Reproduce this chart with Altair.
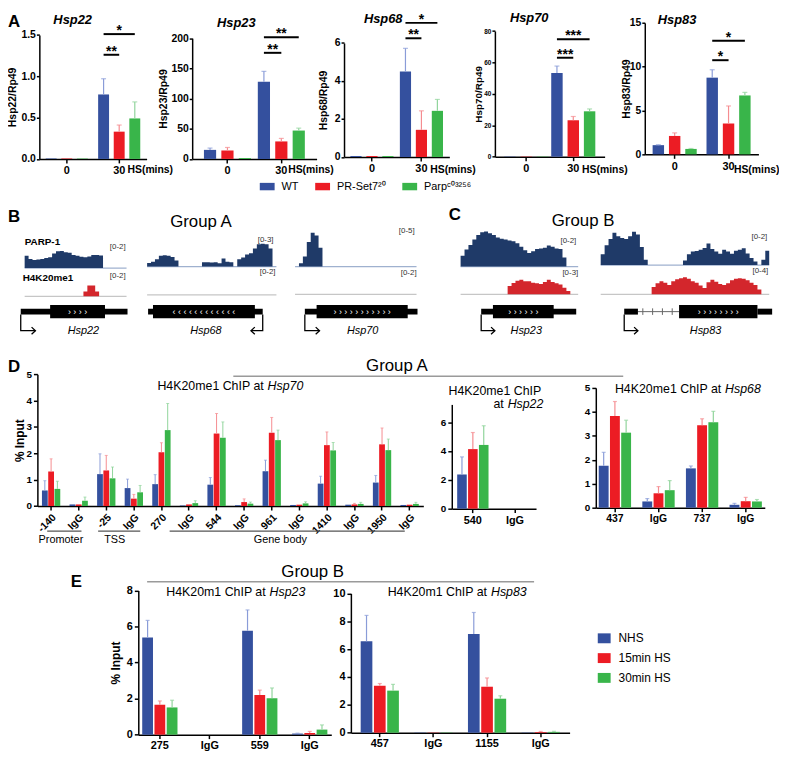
import altair as alt
import pandas as pd

W, H = 779, 749            # drawing area (page has an 8 px margin)


def Px(v):                 # reference-image x pixel -> chart pixel
    return v * W / 787.0


def Py(v):                 # reference-image y pixel -> chart pixel
    return (v - 2.0) * H / 761.0


FONT = "Liberation Sans"
BAR_COLORS = ["#34509e", "#ec1c24", "#39b54a"]
ERR_COLORS = ["#8a9cd8", "#f58c90", "#90d49b"]
NAVY = "#1f3a68"
TRACK_RED = "#d3262c"
PARP_BASE = "#9fb1cf"
K20_BASE = "#c6c6c6"

# ---------------- Panel A : qRT-PCR (rows = genotype, cols = 0 / 30 min) ----------------
A_genotypes = ["WT", "PR-Set7²⁰", "Parpᶜ⁰³²⁵⁶"]
A_times = ["0", "30"]
hsp22_mean = [[0.006, 0.78], [0.006, 0.33], [0.005, 0.49]]
hsp22_sem = [[0.0, 0.19], [0.0, 0.08], [0.0, 0.20]]
hsp23_mean = [[15.0, 128.0], [14.0, 29.0], [1.5, 47.0]]
hsp23_sem = [[3.0, 17.0], [5.0, 5.0], [0.0, 4.0]]
hsp68_mean = [[0.05, 4.5], [0.05, 1.43], [0.05, 2.43]]
hsp68_sem = [[0.0, 1.22], [0.0, 1.0], [0.0, 0.6]]
hsp70_mean = [[0.2, 53.3], [0.2, 23.2], [0.2, 28.9]]
hsp70_sem = [[0.0, 4.4], [0.0, 2.4], [0.0, 1.5]]
hsp83_mean = [[1.05, 8.75], [2.1, 3.52], [0.62, 6.72]]
hsp83_sem = [[0.05, 0.9], [0.35, 2.0], [0.05, 0.35]]
# significance brackets at 30 min: (genotype a, genotype b, height, stars)
hsp22_sig = [(0, 1, 1.26, "**"), (0, 2, 1.51, "*")]
hsp23_sig = [(0, 1, 175.7, "**"), (0, 2, 201.6, "**")]
hsp68_sig = [(0, 1, 6.25, "**"), (0, 2, 7.06, "*")]
hsp70_sig = [(0, 1, 63.0, "***"), (0, 2, 74.8, "***")]
hsp83_sig = [(0, 1, 10.74, "*"), (0, 2, 12.96, "*")]

# ---------------- Panels D / E : ChIP (rows = NHS, 15 min HS, 30 min HS) ----------------
DE_series = ["NHS", "15min HS", "30min HS"]
d70_sites = ["-140", "IgG", "-25", "IgG", "270", "IgG", "544", "IgG", "961", "IgG", "1410", "IgG", "1950", "IgG"]
d70_mean = [
    [0.59, 0.06, 1.21, 0.68, 0.83, 0.02, 0.81, 0.03, 1.32, 0.04, 0.85, 0.05, 0.89, 0.04],
    [1.31, 0.06, 1.35, 0.28, 2.04, 0.06, 2.75, 0.15, 2.78, 0.05, 2.31, 0.06, 2.34, 0.05],
    [0.65, 0.20, 1.05, 0.52, 2.88, 0.11, 2.59, 0.09, 2.50, 0.10, 2.11, 0.08, 2.12, 0.08],
]
d70_sem = [
    [0.37, 0.0, 0.77, 0.34, 0.36, 0.0, 0.27, 0.0, 0.42, 0.0, 0.28, 0.0, 0.27, 0.0],
    [0.48, 0.0, 0.57, 0.16, 0.36, 0.0, 0.76, 0.12, 0.58, 0.0, 0.50, 0.04, 0.62, 0.0],
    [0.29, 0.14, 0.43, 0.26, 1.01, 0.09, 0.60, 0.06, 0.38, 0.06, 0.30, 0.06, 0.42, 0.06],
]
d22_sites = ["540", "IgG"]
d22_mean = [[2.37, 0.0], [4.13, 0.0], [4.42, 0.0]]
d22_sem = [[1.22, 0.0], [1.15, 0.0], [1.33, 0.0]]
d68_sites = ["437", "IgG", "737", "IgG"]
d68_mean = [[1.75, 0.26, 1.64, 0.12], [3.83, 0.60, 3.44, 0.27], [3.13, 0.73, 3.56, 0.26]]
d68_sem = [[0.56, 0.12, 0.10, 0.06], [0.60, 0.28, 0.27, 0.16], [0.52, 0.40, 0.46, 0.08]]
e23_sites = ["275", "IgG", "559", "IgG"]
e23_mean = [[5.39, 0.0, 5.77, 0.06], [1.66, 0.0, 2.20, 0.09], [1.51, 0.0, 2.02, 0.28]]
e23_sem = [[0.95, 0.0, 1.15, 0.02], [0.21, 0.0, 0.27, 0.09], [0.40, 0.0, 0.57, 0.26]]
e83_sites = ["457", "IgG", "1155", "IgG"]
e83_mean = [[6.56, 0.02, 7.09, 0.02], [3.37, 0.02, 3.30, 0.05], [3.02, 0.02, 2.44, 0.06]]
e83_sem = [[1.86, 0.0, 1.54, 0.0], [0.16, 0.0, 0.63, 0.04], [0.45, 0.0, 0.21, 0.04]]

# ---------------- Panels B / C : genome-browser tracks (4 px bins) ----------------
parp_hsp22 = [0.68, 0.5, 0.45, 0.47, 0.5, 0.56, 0.6, 0.8, 0.93, 0.95, 0.88, 0.85, 0.72, 0.68, 0.62, 0.6,
              0.64, 0.72, 0.72, 0.7, 0, 0, 0, 0, 0, 0]
k20_hsp22 = [0, 0, 0, 0, 0, 0, 0, 0, 0, 0, 0, 0, 0, 0, 0, 0.5, 1.1, 1.1, 0.5, 0, 0, 0, 0, 0, 0, 0]
parp_hsp68 = [0.3, 0.4, 0.6, 0.9, 0.95, 0.9, 0.8, 0.5, 0, 0, 0, 0, 0, 0, 0.35, 0.35, 0.33, 0.35, 0.27,
              0.68, 0.4, 0.35, 0, 0.6, 0.75, 1.0, 1.1, 1.5, 1.85, 1.9, 1.85, 1.5, 0]
k20_hsp68 = [0] * 33
parp_hsp70 = [0, 0.45, 1.4, 3.4, 4.7, 4.3, 2.6, 0, 0, 0, 0, 0, 0, 0, 0, 0, 0, 0, 0, 0, 0, 0, 0, 0, 0, 0,
              0, 0, 0, 0, 0]
k20_hsp70 = [0] * 31
parp_hsp23 = [0.6, 0.95, 1.2, 1.5, 1.75, 1.9, 1.95, 1.85, 1.75, 1.62, 1.55, 1.5, 1.45, 1.4, 1.3, 1.1, 0.9,
              0.75, 0.85, 0.98, 1.0, 1.05, 1.17, 1.1, 1.0, 0.98, 0.5, 0, 0, 0]
k20_hsp23 = [0, 0, 0, 0, 0, 0, 0, 0, 0, 0, 0, 0, 1.3, 1.75, 2.1, 2.25, 2.0, 2.0, 1.8, 1.7, 1.6, 1.9, 2.25,
             1.9, 1.7, 1.5, 1.0, 0.5, 0, 0]
parp_hsp83 = [0.6, 1.1, 1.45, 1.8, 1.6, 1.5, 1.45, 1.6, 1.85, 1.7, 1.0, 0.3, 0, 0, 0, 0, 0, 0, 0, 0, 0,
              0.25, 0.6, 0.75, 0.78, 0.85, 0.95, 1.2, 0.9, 0.75, 0.63, 0.85, 0.75, 0.63, 0.8, 0.85, 0.94,
              0.65, 0.4, 0.2, 0, 0.3, 0.8]
k20_hsp83 = [0, 0, 0, 0, 0, 0, 0, 0, 0, 0, 0, 0, 0, 1.5, 2.3, 2.7, 2.4, 1.9, 2.7, 3.1, 3.3, 3.5, 3.2, 2.7,
             2.4, 1.8, 1.3, 2.5, 3.0, 2.6, 2.1, 1.9, 2.3, 2.9, 3.2, 3.3, 3.2, 2.9, 2.4, 1.9, 1.0, 0, 0]

ONE = pd.DataFrame({"k": [0]})


# ============================== helpers ==============================
def txt(s, x, y, size=11, weight="normal", style="normal", align="center",
        baseline="middle", angle=0, color="black"):
    return alt.Chart(ONE).mark_text(
        text=s, fontSize=size, fontWeight=weight, fontStyle=style, align=align,
        baseline=baseline, angle=angle, color=color, font=FONT
    ).encode(x=alt.value(Px(x)), y=alt.value(Py(y)))


def hline(x1, x2, y, color="#9a9a9a", width=1.5):
    return alt.Chart(ONE).mark_rule(color=color, strokeWidth=width).encode(
        x=alt.value(Px(x1)), x2=alt.value(Px(x2)), y=alt.value(Py(y)))


def bar_panel(sites, series, mean, sem, x0, c0, c1, grp_w, sub_pad, ybot, ytop, domain, ticks,
              fmt="d", tick_font=10, xlab_font=11, xlab_angle=0, ytitle=None, ytitle_x=0,
              ytitle_font=11, legend=None, sig=None, cap=5, err_w=1.2, lab_pad=2,
              ytick=4, ylab_pad=2):
    keys = [f"{s}#{i}" for i, s in enumerate(sites)]
    rows = []
    for si, ser in enumerate(series):
        for ci, key in enumerate(keys):
            m, e = mean[si][ci], sem[si][ci]
            rows.append({"site": key, "series": ser, "mean": m, "hi": m + e, "err": e})
    df = pd.DataFrame(rows)
    n = len(keys)
    step = c1 - c0
    p_in = 1 - grp_w / step
    p_out = (c0 - x0 - grp_w / 2) / step
    x1 = x0 + step * (n - p_in + 2 * p_out)
    X = alt.X("site:N",
              scale=alt.Scale(domain=keys, range=[Px(x0), Px(x1)], paddingInner=p_in, paddingOuter=p_out),
              axis=alt.Axis(orient="bottom", offset=Py(ybot) - H, title=None,
                            labelExpr="split(datum.value, '#')[0]", labelFontSize=xlab_font,
                            labelAngle=xlab_angle, labelOverlap=False, labelPadding=lab_pad))
    XO = alt.XOffset("series:N", scale=alt.Scale(domain=series, paddingInner=sub_pad, paddingOuter=0))
    ax = dict(orient="left", offset=-Px(x0), values=ticks, format=fmt, labelFontSize=tick_font,
              title=None, tickSize=ytick, labelPadding=ylab_pad)
    if ytitle:
        ax.update(title=ytitle, titleX=Px(ytitle_x) - Px(x0), titleY=(Py(ybot) + Py(ytop)) / 2,
                  titleAngle=270, titleAlign="center", titleBaseline="middle", titleFontSize=ytitle_font)
    ysc = alt.Scale(domain=domain, range=[Py(ybot), Py(ytop)], nice=False, zero=False)
    yaxis = alt.Axis(**ax)

    def Y(f):
        return alt.Y(f, scale=ysc, axis=yaxis)

    bars = alt.Chart(df).mark_bar().encode(
        x=X, xOffset=XO, y=Y("mean:Q"),
        color=alt.Color("series:N", scale=alt.Scale(domain=series, range=BAR_COLORS), legend=legend))
    edf = df[df["err"] > 0]
    errs = alt.Chart(edf).mark_rule(strokeWidth=err_w).encode(
        x=X, xOffset=XO, y=Y("mean:Q"), y2="hi:Q",
        stroke=alt.Stroke("series:N", scale=alt.Scale(domain=series, range=ERR_COLORS), legend=None))
    caps = alt.Chart(edf).mark_tick(thickness=err_w, size=cap, filled=True).encode(
        x=X, xOffset=XO, y=Y("hi:Q"),
        fill=alt.Fill("series:N", scale=alt.Scale(domain=series, range=ERR_COLORS), legend=None))
    layers = [bars, errs, caps]
    if sig:
        gkey = keys[1]
        sub = grp_w / (len(series) - sub_pad)
        lines, adj, span = [], [], []
        for i, (a, b, yv, lab) in enumerate(sig):
            lines.append({"site": gkey, "series": series[a], "y": yv, "id": i, "o": 0})
            lines.append({"site": gkey, "series": series[b], "y": yv, "id": i, "o": 1})
            if b - a == 1:
                adj.append({"site": gkey, "series": series[a], "y": yv, "lab": lab})
            else:
                span.append({"site": gkey, "series": series[(a + b) // 2], "y": yv, "lab": lab})
        layers.append(alt.Chart(pd.DataFrame(lines)).mark_line(color="black", strokeWidth=2).encode(
            x=X, xOffset=XO, y=Y("y:Q"), detail="id:N", order="o:Q"))
        for rws, dx in ((adj, sub / 2), (span, 0)):
            if rws:
                layers.append(alt.Chart(pd.DataFrame(rws)).mark_text(
                    fontSize=14, fontWeight="bold", baseline="alphabetic", dx=dx, dy=1, color="black",
                    font=FONT).encode(x=X, xOffset=XO, y=Y("y:Q"), text="lab:N"))
    return alt.layer(*layers)


BIN = 4


def track(x_start, heights, vmax, baseline, full, fill, base_color):
    n = len(heights)
    L = n * BIN
    xsc = alt.Scale(domain=[0, L], range=[Px(x_start), Px(x_start + L)], nice=False, zero=False)
    ysc = alt.Scale(domain=[0, vmax], range=[Py(baseline), Py(baseline - full)], nice=False, zero=False)
    base = alt.Chart(pd.DataFrame({"a": [0], "b": [L], "z": [0]})).mark_rule(
        color=base_color, strokeWidth=1.2).encode(
        x=alt.X("a:Q", scale=xsc, axis=None), x2="b:Q", y=alt.Y("z:Q", scale=ysc, axis=None))
    layers = [base]
    if any(h > 0 for h in heights):
        df = pd.DataFrame({"pos": [i * BIN for i in range(n)] + [L], "h": list(heights) + [heights[-1]]})
        layers.append(alt.Chart(df).mark_area(interpolate="step-after", color=fill).encode(
            x=alt.X("pos:Q", scale=xsc, axis=None), y=alt.Y("h:Q", scale=ysc, axis=None)))
    return alt.layer(*layers)


def gene(x_start, L, thin, thick, introns, intron_ticks, tss, strand, arrow_len, name, name_pos,
         chev_n, chev_gap):
    xsc = alt.Scale(domain=[0, L], range=[Px(x_start), Px(x_start + L)], nice=False, zero=False)
    gy = alt.Scale(domain=[-3, 1], range=[Py(330), Py(303)], nice=False, zero=False)

    def GX(f):
        return alt.X(f, scale=xsc, axis=None)

    def GY(f):
        return alt.Y(f, scale=gy, axis=None)

    layers = []
    if introns:
        layers.append(alt.Chart(pd.DataFrame([{"s": s, "e": e, "y": 0} for s, e in introns])).mark_rule(
            color="#666666", strokeWidth=1).encode(x=GX("s:Q"), x2="e:Q", y=GY("y:Q")))
        layers.append(alt.Chart(pd.DataFrame({"x": intron_ticks, "y0": [-0.5] * len(intron_ticks),
                                              "y1": [0.5] * len(intron_ticks)})).mark_rule(
            color="#666666", strokeWidth=1).encode(x=GX("x:Q"), y=GY("y0:Q"), y2="y1:Q"))
    boxes = pd.DataFrame([{"s": s, "e": e, "y0": -0.45, "y1": 0.45} for s, e in thin]
                         + [{"s": s, "e": e, "y0": -1.0, "y1": 1.0} for s, e in thick])
    layers.append(alt.Chart(boxes).mark_rect(color="black").encode(
        x=GX("s:Q"), x2="e:Q", y=GY("y0:Q"), y2="y1:Q"))
    end = tss + strand * arrow_len
    arrow = pd.DataFrame({"x": [tss, tss, end], "y": [-0.45, -2.9, -2.9], "o": [0, 1, 2]})
    layers.append(alt.Chart(arrow).mark_line(color="black", strokeWidth=1.3).encode(
        x=GX("x:Q"), y=GY("y:Q"), order="o:Q"))
    head = "M-1.3,-1.2L0,0L-1.3,1.2" if strand > 0 else "M1.3,-1.2L0,0L1.3,1.2"
    layers.append(alt.Chart(pd.DataFrame({"x": [end], "y": [-2.9]})).mark_point(
        shape=head, filled=False, color="black", size=36, strokeWidth=1.3, opacity=1).encode(
        x=GX("x:Q"), y=GY("y:Q")))
    cs, ce = thick[0]
    ch = "›" if strand > 0 else "‹"
    chev = (ch + " " * chev_gap) * (chev_n - 1) + ch
    layers.append(alt.Chart(pd.DataFrame({"x": [(cs + ce) / 2], "y": [0], "t": [chev]})).mark_text(
        color="white", fontSize=9, baseline="middle", font=FONT).encode(
        x=GX("x:Q"), y=GY("y:Q"), text="t:N"))
    layers.append(alt.Chart(pd.DataFrame({"x": [name_pos], "y": [-2.9], "t": [name]})).mark_text(
        fontSize=11, fontStyle="italic", baseline="middle", font=FONT).encode(
        x=GX("x:Q"), y=GY("y:Q"), text="t:N"))
    return alt.layer(*layers)


# ============================== build ==============================
layers = []

# ---- Panel A ----
legA = alt.Legend(orient="none", legendX=Px(257), legendY=Py(173.5), direction="horizontal", title=None,
                  symbolType="M-1,-0.5H1V0.5H-1Z", symbolSize=225, symbolStrokeWidth=0,
                  labelFontSize=11, labelFont=FONT, labelFontWeight="normal", columnPadding=16,
                  labelOffset=7)
A_kw = dict(ytick=3, ylab_pad=1, tick_font=10.5, ytitle_font=10.5)
layers.append(bar_panel(A_times, A_genotypes, hsp22_mean, hsp22_sem, 32, 60, 113.5, 43, 0.3, 153, 25.7,
                        [0, 1.5], [0, 0.5, 1.0, 1.5], fmt=".1f", ytitle="Hsp22/Rp49", ytitle_x=5,
                        legend=legA, sig=hsp22_sig, **A_kw))
layers.append(bar_panel(A_times, A_genotypes, hsp23_mean, hsp23_sem, 188, 224, 279, 48, 0.3, 153, 29,
                        [0, 200], [0, 50, 100, 150, 200], ytitle="Hsp23/Rp49", ytitle_x=159,
                        sig=hsp23_sig, **A_kw))
layers.append(bar_panel(A_times, A_genotypes, hsp68_mean, hsp68_sem, 343, 371.5, 422, 44, 0.3, 151, 34,
                        [0, 6], [0, 2, 4, 6], ytitle="Hsp68/Rp49", ytitle_x=322,
                        sig=hsp68_sig, **A_kw))
layers.append(bar_panel(A_times, A_genotypes, hsp70_mean, hsp70_sem, 497, 529, 577, 45, 0.3, 150.7, 21.7,
                        [0, 80], [0, 20, 40, 60, 80], tick_font=6.5, ytitle="Hsp70/Rp49", ytitle_x=480,
                        ytitle_font=10, sig=hsp70_sig, ytick=3, ylab_pad=1))
layers.append(bar_panel(A_times, A_genotypes, hsp83_mean, hsp83_sem, 650, 680.5, 735.5, 45, 0.3, 148.3, 13.3,
                        [0, 15], [0, 5, 10, 15], ytitle="Hsp83/Rp49", ytitle_x=631,
                        sig=hsp83_sig, **A_kw))

layers.append(txt("A", 0, 12, size=17, weight="bold", align="left"))
for name, x, y in [("Hsp22", 66, 10), ("Hsp23", 233, 13), ("Hsp68", 383, 9), ("Hsp70", 532, 8),
                   ("Hsp83", 683, 10)]:
    layers.append(txt(name, x, y, size=13, weight="bold", style="italic"))
for x in [122, 286, 431, 586, 741]:
    layers.append(txt("HS(mins)", x, 164, size=10.5, weight="bold", align="left"))

# ---- Panels B / C ----
track_x = [17, 142, 293, 462, 605]
parp_tracks = [parp_hsp22, parp_hsp68, parp_hsp70, parp_hsp23, parp_hsp83]
parp_max = [2, 3, 5, 2, 2]
parp_base = [265, 263.5, 263.5, 263.5, 262]
k20_tracks = [k20_hsp22, k20_hsp68, k20_hsp70, k20_hsp23, k20_hsp83]
k20_max = [2, 2, 2, 3, 4]
k20_base = [294, 292.5, 292, 292, 292]
for i in range(5):
    layers.append(track(track_x[i], parp_tracks[i], parp_max[i], parp_base[i], 37, NAVY, PARP_BASE))
    layers.append(track(track_x[i], k20_tracks[i], k20_max[i], k20_base[i], 20, TRACK_RED, K20_BASE))

layers.append(gene(17, 104, [(-4, 105)], [(26, 82)], [], [], -4, 1, 15, "Hsp22", 60, 4, 3))
layers.append(gene(142, 132, [(1, 118)], [(6, 110)], [], [], 118, -1, 12, "Hsp68", 60, 12, 2))
layers.append(gene(293, 124, [(10, 125)], [(22, 115)], [], [], 10, 1, 15, "Hsp70", 69, 11, 2))
layers.append(gene(462, 120, [(21, 118)], [(33, 95)], [], [], 21, 1, 14, "Hsp23", 67, 6, 2))
layers.append(gene(605, 172, [(24, 38), (160, 175)], [(80, 160)], [(38, 80)], [43, 53, 63, 73],
                   24, 1, 14, "Hsp83", 107, 8, 2))

layers.append(txt("B", 0, 213, size=17, weight="bold", align="left"))
layers.append(txt("C", 450, 211, size=17, weight="bold", align="left"))
layers.append(txt("Group A", 197, 218, size=17))
layers.append(txt("Group B", 587, 217, size=17))
layers.append(txt("PARP-1", 17, 238, size=10, weight="bold", align="left"))
layers.append(txt("H4K20me1", 15, 275, size=10, weight="bold", align="left"))
for s, x, y in [("[0-2]", 112, 243), ("[0-2]", 112, 273), ("[0-3]", 263, 236), ("[0-2]", 265, 269),
                ("[0-5]", 407, 227), ("[0-2]", 409, 270), ("[0-2]", 572, 237), ("[0-3]", 574, 270),
                ("[0-2]", 767, 233), ("[0-4]", 768, 268)]:
    layers.append(txt(s, x, y, size=8, color="#333333"))

# ---- Panel D ----
layers.append(bar_panel(d70_sites, DE_series, d70_mean, d70_sem, 30, 44, 72.15, 18.7, 0.08, 509.3, 374,
                        [0, 5], [0, 1, 2, 3, 4, 5], tick_font=10, xlab_font=10.5, xlab_angle=315,
                        ytitle="% Input", ytitle_x=12, ytitle_font=12, cap=3, err_w=1))
layers.append(bar_panel(d22_sites, DE_series, d22_mean, d22_sem, 453, 474.5, 517.5, 32, 0.12, 512, 405,
                        [0, 7.23], [0, 2, 4, 6], tick_font=10, xlab_font=11, cap=4))
layers.append(bar_panel(d68_sites, DE_series, d68_mean, d68_sem, 600, 619.5, 664, 33, 0.12, 511, 388,
                        [0, 5], [0, 1, 2, 3, 4, 5], tick_font=10, xlab_font=10.5, cap=4))

layers.append(txt("D", 0, 367, size=17, weight="bold", align="left"))
layers.append(txt("Group A", 397, 366, size=17))
layers.append(hline(230, 628, 376))
layers.append(txt("H4K20me1 ChIP at", 261, 386, size=12.5, align="right"))
layers.append(txt("Hsp70", 265, 386, size=12.5, style="italic", align="left"))
layers.append(txt("H4K20me1 ChIP", 497, 391, size=12.5))
layers.append(txt("at", 506, 405, size=12.5, align="right"))
layers.append(txt("Hsp22", 510, 405, size=12.5, style="italic", align="left"))
layers.append(txt("H4K20me1 ChIP at", 728, 389, size=12.5, align="right"))
layers.append(txt("Hsp68", 732, 389, size=12.5, style="italic", align="left"))
layers.append(hline(40, 75, 535, color="#555555", width=1.2))
layers.append(hline(92, 135, 535, color="#555555", width=1.2))
layers.append(hline(165, 405, 535, color="#555555", width=1.2))
layers.append(txt("Promoter", 54, 544, size=11))
layers.append(txt("TSS", 109, 544, size=11))
layers.append(txt("Gene body", 278, 544, size=11))

# ---- Panel E ----
legE = alt.Legend(orient="none", legendX=Px(602), legendY=Py(638.5), direction="vertical", title=None,
                  symbolType="M-1,-0.77H1V0.77H-1Z", symbolSize=169, symbolStrokeWidth=0,
                  labelFontSize=12, labelFont=FONT, labelFontWeight="normal", rowPadding=7,
                  labelOffset=8)
layers.append(bar_panel(e23_sites, DE_series, e23_mean, e23_sem, 133, 155, 206, 36, 0.12, 744, 596,
                        [0, 8], [0, 2, 4, 6, 8], tick_font=11, xlab_font=11, ytitle="% Input",
                        ytitle_x=110, ytitle_font=12, legend=legE, cap=4, lab_pad=1))
layers.append(bar_panel(e83_sites, DE_series, e83_mean, e83_sem, 350, 379.5, 434.25, 39, 0.12, 742, 599,
                        [0, 10], [0, 2, 4, 6, 8, 10], tick_font=11, xlab_font=11, cap=4, lab_pad=1))

layers.append(txt("E", 64, 587, size=17, weight="bold", align="left"))
layers.append(txt("Group B", 311, 577, size=17))
layers.append(hline(142, 537, 587))
layers.append(txt("H4K20m1 ChIP at", 263, 598, size=12.5, align="right"))
layers.append(txt("Hsp23", 267, 598, size=12.5, style="italic", align="left"))
layers.append(txt("H4K20m1 ChIP at", 489, 598, size=12.5, align="right"))
layers.append(txt("Hsp83", 493, 598, size=12.5, style="italic", align="left"))

chart = alt.layer(*layers).resolve_scale(
    x="independent", y="independent", xOffset="independent",
    color="independent", stroke="independent", fill="independent"
).resolve_axis(x="independent", y="independent").resolve_legend(
    color="independent", stroke="independent", fill="independent"
).properties(
    width=W, height=H, autosize=alt.AutoSizeParams(type="none"), padding=0
).configure(font=FONT).configure_view(stroke=None).configure_axis(
    domainColor="black", tickColor="black", domainWidth=1.5, tickWidth=1.5, tickSize=4,
    labelFont=FONT, labelFontWeight="bold", labelColor="black", titleFont=FONT,
    titleFontWeight="bold", titleColor="black", grid=False, labelPadding=2
)

chart.save("out.html", embed_options={"renderer": "svg", "actions": False})
